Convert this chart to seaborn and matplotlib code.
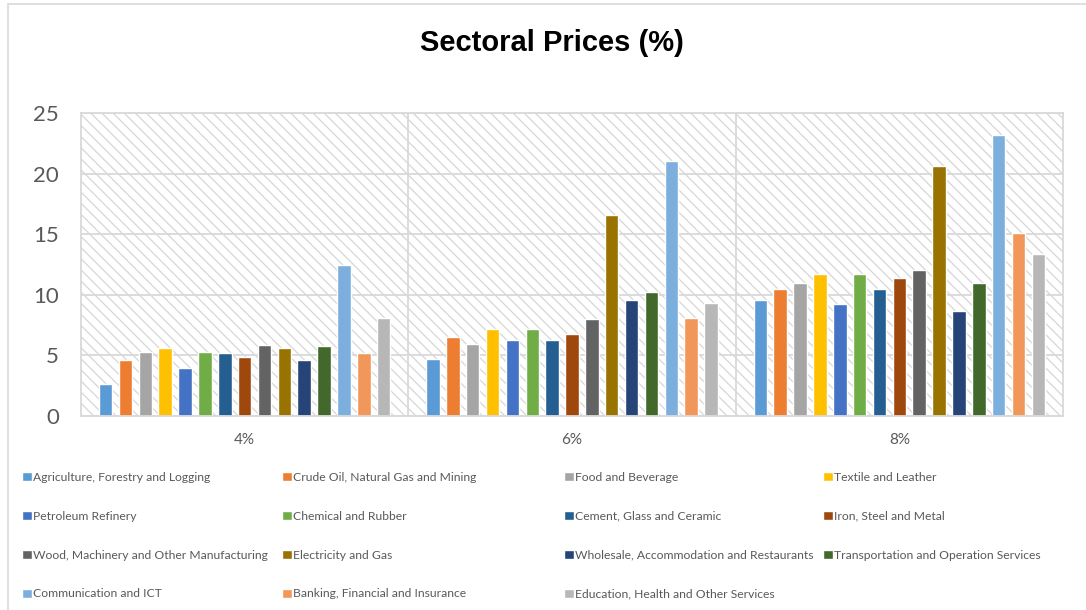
# -*- coding: utf-8 -*-
'''
Sectoral prices by rate, grouped bar chart
'''

import numpy as np
import pandas as pd
import seaborn as sns
import matplotlib.pyplot as plt
from matplotlib.patches import Patch, Rectangle

rates = ['4%', '6%', '8%']

sectors = ['Agriculture, Forestry and Logging', 'Crude Oil, Natural Gas and Mining',
           'Food and Beverage', 'Textile and Leather', 'Petroleum Refinery',
           'Chemical and Rubber', 'Cement, Glass and Ceramic', 'Iron, Steel and Metal',
           'Wood, Machinery and Other Manufacturing', 'Electricity and Gas',
           'Wholesale, Accommodation and Restaurants', 'Transportation and Operation Services',
           'Communication and ICT', 'Banking, Financial and Insurance',
           'Education, Health and Other Services']

colors = ['#5B9BD5', '#ED7D31', '#A5A5A5', '#FFC000', '#4472C4', '#70AD47', '#255E91',
          '#9E480E', '#636363', '#997300', '#264478', '#43682B', '#7CAFDD', '#F1975A',
          '#B7B7B7']

prices_4 = [2.65, 4.6, 5.3, 5.6, 4.0, 5.3, 5.2, 4.85, 5.85, 5.65, 4.6, 5.8, 12.5, 5.2, 8.1]
prices_6 = [4.7, 6.5, 5.95, 7.2, 6.3, 7.15, 6.3, 6.75, 8.0, 16.55, 9.6, 10.2, 21.0, 8.1, 9.3]
prices_8 = [9.55, 10.45, 11.0, 11.75, 9.25, 11.75, 10.5, 11.4, 12.05, 20.6, 8.7, 11.0, 23.15, 15.1, 13.35]

df = pd.DataFrame({'rate': np.repeat(rates, len(sectors)),
                   'sector': sectors * 3,
                   'price': prices_4 + prices_6 + prices_8})

sns.set_style('white')
plt.rcParams['font.family'] = ['Lato', 'DejaVu Sans']
plt.rcParams['hatch.linewidth'] = 0.9

W, H = 1086, 610
grid_col = '#D9D9D9'
text_col = '#595959'

fig = plt.figure(figsize=(W / 100, H / 100), dpi=100)
ax = fig.add_axes([81 / W, 1 - 416 / H, 982 / W, 303 / H])

# hatched plot area
ax.add_patch(Rectangle((0, 0), 1, 1, transform=ax.transAxes, facecolor='white',
                       edgecolor='#D6D6D6', hatch='\\\\\\', linewidth=0, zorder=0))

sns.barplot(data=df, x='rate', y='price', hue='sector', hue_order=sectors,
            palette=colors, width=0.91, gap=0.32, saturation=1, legend=False, ax=ax)

ax.set_xlim(-0.5, 2.5)
ax.set_ylim(0, 25)
ax.set_yticks(range(0, 26, 5))
ax.set_xlabel('')
ax.set_ylabel('')
ax.set_axisbelow(True)
ax.yaxis.grid(True, color=grid_col, linewidth=1.3)
for xv in [0.5, 1.5]:
    ax.axvline(xv, color=grid_col, linewidth=1.3, zorder=0.6)
for s in ax.spines.values():
    s.set_color(grid_col)
    s.set_linewidth(1.3)

ax.tick_params(axis='both', length=0, labelcolor=text_col)
ax.tick_params(axis='y', labelsize=16, pad=16)
ax.tick_params(axis='x', labelsize=11, pad=12)

fig.text(552 / W, 1 - 43 / H, 'Sectoral Prices (%)', ha='center', va='center',
         fontsize=21, fontweight='bold', family='Liberation Sans', color='black')

# outer chart border
fig.patches.append(Rectangle((8 / W, -0.1), 1.2, 1.1 - 4 / H, transform=fig.transFigure,
                             fill=False, edgecolor=grid_col, linewidth=1.2))

# legend, row-major in 4 columns
handles = [Patch(facecolor=c) for c in colors]
col_items = [[0, 4, 8, 12], [1, 5, 9, 13], [2, 6, 10, 14], [3, 7, 11]]
col_x = [22, 282, 564, 823]
for items, x in zip(col_items, col_x):
    fig.legend(handles=[handles[i] for i in items], labels=[sectors[i] for i in items],
               loc='upper left', bbox_to_anchor=(x / W, 1 - 472 / H), frameon=False,
               fontsize=8.7, labelcolor=text_col, handlelength=0.8, handleheight=0.8,
               handletextpad=0.15, labelspacing=2.3, borderpad=0, borderaxespad=0)

fig.savefig('out.png', dpi=100)
